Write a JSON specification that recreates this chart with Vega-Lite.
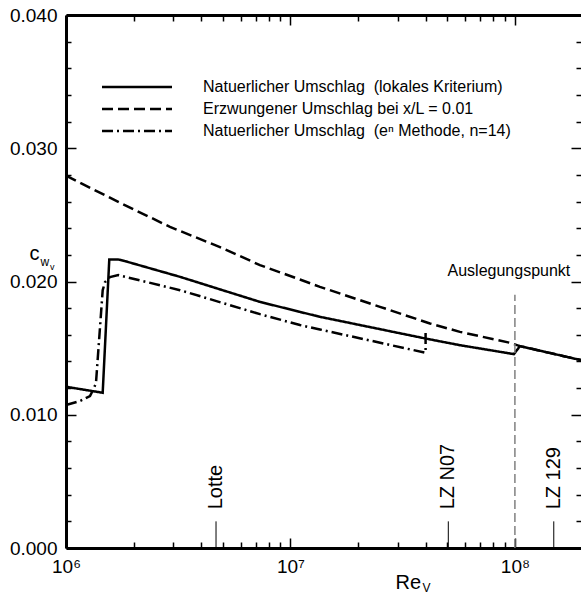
{
  "$schema": "https://vega.github.io/schema/vega-lite/v6.json",
  "width": 515,
  "height": 533,
  "autosize": {"type": "none"},
  "padding": {"left": 66, "top": 15, "right": 0, "bottom": 46},
  "config": {
    "font": "Liberation Sans",
    "view": {"stroke": null},
    "axis": {
      "domainColor": "black", "domainWidth": 3, "tickColor": "black", "tickWidth": 1.5,
      "labelColor": "black", "titleColor": "black", "grid": false,
      "labelFont": "Liberation Sans", "titleFont": "Liberation Sans", "titleFontWeight": "normal",
      "labelFontSize": 19
    }
  },
  "datasets": {
    "curves": [
      {"series": "Natuerlicher Umschlag  (lokales Kriterium)", "i": 1, "Re": 1000000, "cw": 0.01210},
      {"series": "Natuerlicher Umschlag  (lokales Kriterium)", "i": 2, "Re": 1457000, "cw": 0.01165},
      {"series": "Natuerlicher Umschlag  (lokales Kriterium)", "i": 3, "Re": 1559000, "cw": 0.02165},
      {"series": "Natuerlicher Umschlag  (lokales Kriterium)", "i": 4, "Re": 1710000, "cw": 0.02165},
      {"series": "Natuerlicher Umschlag  (lokales Kriterium)", "i": 5, "Re": 1831000, "cw": 0.02153},
      {"series": "Natuerlicher Umschlag  (lokales Kriterium)", "i": 6, "Re": 3220000, "cw": 0.02035},
      {"series": "Natuerlicher Umschlag  (lokales Kriterium)", "i": 7, "Re": 7313000, "cw": 0.01847},
      {"series": "Natuerlicher Umschlag  (lokales Kriterium)", "i": 8, "Re": 11020000, "cw": 0.01772},
      {"series": "Natuerlicher Umschlag  (lokales Kriterium)", "i": 9, "Re": 13530000, "cw": 0.01735},
      {"series": "Natuerlicher Umschlag  (lokales Kriterium)", "i": 10, "Re": 39730000, "cw": 0.01573},
      {"series": "Natuerlicher Umschlag  (lokales Kriterium)", "i": 11, "Re": 56890000, "cw": 0.01522},
      {"series": "Natuerlicher Umschlag  (lokales Kriterium)", "i": 12, "Re": 95000000, "cw": 0.01460},
      {"series": "Natuerlicher Umschlag  (lokales Kriterium)", "i": 13, "Re": 98970000, "cw": 0.01455},
      {"series": "Natuerlicher Umschlag  (lokales Kriterium)", "i": 14, "Re": 105300000, "cw": 0.01515},
      {"series": "Natuerlicher Umschlag  (lokales Kriterium)", "i": 15, "Re": 197000000, "cw": 0.01410},
      {"series": "Erzwungener Umschlag bei x/L = 0.01", "i": 1, "Re": 1000000, "cw": 0.02794},
      {"series": "Erzwungener Umschlag bei x/L = 0.01", "i": 2, "Re": 1740000, "cw": 0.02591},
      {"series": "Erzwungener Umschlag bei x/L = 0.01", "i": 3, "Re": 2906000, "cw": 0.02410},
      {"series": "Erzwungener Umschlag bei x/L = 0.01", "i": 4, "Re": 4853000, "cw": 0.02258},
      {"series": "Erzwungener Umschlag bei x/L = 0.01", "i": 5, "Re": 7313000, "cw": 0.02123},
      {"series": "Erzwungener Umschlag bei x/L = 0.01", "i": 6, "Re": 11020000, "cw": 0.02015},
      {"series": "Erzwungener Umschlag bei x/L = 0.01", "i": 7, "Re": 13530000, "cw": 0.01960},
      {"series": "Erzwungener Umschlag bei x/L = 0.01", "i": 8, "Re": 25040000, "cw": 0.01810},
      {"series": "Erzwungener Umschlag bei x/L = 0.01", "i": 9, "Re": 41820000, "cw": 0.01685},
      {"series": "Erzwungener Umschlag bei x/L = 0.01", "i": 10, "Re": 56890000, "cw": 0.01622},
      {"series": "Erzwungener Umschlag bei x/L = 0.01", "i": 11, "Re": 95000000, "cw": 0.01540},
      {"series": "Erzwungener Umschlag bei x/L = 0.01", "i": 12, "Re": 105300000, "cw": 0.01515},
      {"series": "Erzwungener Umschlag bei x/L = 0.01", "i": 13, "Re": 197000000, "cw": 0.01410},
      {"series": "Natuerlicher Umschlag  (eⁿ Methode, n=14)", "i": 1, "Re": 1000000, "cw": 0.01073},
      {"series": "Natuerlicher Umschlag  (eⁿ Methode, n=14)", "i": 2, "Re": 1154000, "cw": 0.01103},
      {"series": "Natuerlicher Umschlag  (eⁿ Methode, n=14)", "i": 3, "Re": 1279000, "cw": 0.01140},
      {"series": "Natuerlicher Umschlag  (eⁿ Methode, n=14)", "i": 4, "Re": 1332000, "cw": 0.01200},
      {"series": "Natuerlicher Umschlag  (eⁿ Methode, n=14)", "i": 5, "Re": 1360000, "cw": 0.01238},
      {"series": "Natuerlicher Umschlag  (eⁿ Methode, n=14)", "i": 6, "Re": 1457000, "cw": 0.01935},
      {"series": "Natuerlicher Umschlag  (eⁿ Methode, n=14)", "i": 7, "Re": 1492000, "cw": 0.01995},
      {"series": "Natuerlicher Umschlag  (eⁿ Methode, n=14)", "i": 8, "Re": 1570000, "cw": 0.02033},
      {"series": "Natuerlicher Umschlag  (eⁿ Methode, n=14)", "i": 9, "Re": 1710000, "cw": 0.02048},
      {"series": "Natuerlicher Umschlag  (eⁿ Methode, n=14)", "i": 10, "Re": 3220000, "cw": 0.01935},
      {"series": "Natuerlicher Umschlag  (eⁿ Methode, n=14)", "i": 11, "Re": 7313000, "cw": 0.01755},
      {"series": "Natuerlicher Umschlag  (eⁿ Methode, n=14)", "i": 12, "Re": 11020000, "cw": 0.01673},
      {"series": "Natuerlicher Umschlag  (eⁿ Methode, n=14)", "i": 13, "Re": 13530000, "cw": 0.01640},
      {"series": "Natuerlicher Umschlag  (eⁿ Methode, n=14)", "i": 14, "Re": 40000000, "cw": 0.01465},
      {"series": "Natuerlicher Umschlag  (eⁿ Methode, n=14)", "i": 15, "Re": 40000000, "cw": 0.01640}
    ],
    "marks": [
      {"name": "Lotte", "Re": 4660000},
      {"name": "LZ N07", "Re": 50500000},
      {"name": "LZ 129", "Re": 149000000}
    ],
    "design": [
      {"name": "Auslegungspunkt", "Re": 100000000}
    ]
  },
  "layer": [
    {
      "data": {"name": "curves"},
      "mark": {"type": "line", "stroke": "black", "strokeWidth": 2.5},
      "encoding": {
        "x": {
          "field": "Re", "type": "quantitative",
          "scale": {"type": "log", "domain": [1000000, 197000000], "nice": false},
          "axis": {
            "orient": "bottom",
            "values": [1000000, 2000000, 3000000, 4000000, 5000000, 6000000, 7000000, 8000000, 9000000, 10000000, 20000000, 30000000, 40000000, 50000000, 60000000, 70000000, 80000000, 90000000, 100000000],
            "labelExpr": "datum.value == 1000000 ? '10⁶' : datum.value == 10000000 ? '10⁷' : datum.value == 100000000 ? '10⁸' : ''",
            "tickSize": {"condition": {"test": "datum.value == 1000000 || datum.value == 10000000 || datum.value == 100000000", "value": -10}, "value": -6},
            "labelPadding": 19, "labelFlush": false, "labelOverlap": false, "labelBound": false,
            "title": "Re", "titleFontSize": 20, "titleX": 329, "titleY": 40,
            "titleAlign": "left", "titleBaseline": "alphabetic", "titleAngle": 0
          }
        },
        "y": {
          "field": "cw", "type": "quantitative",
          "scale": {"domain": [0, 0.04], "nice": false, "zero": true},
          "axis": {
            "orient": "left",
            "values": [0, 0.002, 0.004, 0.006, 0.008, 0.01, 0.012, 0.014, 0.016, 0.018, 0.02, 0.022, 0.024, 0.026, 0.028, 0.03, 0.032, 0.034, 0.036, 0.038, 0.04],
            "labelExpr": "abs(datum.value*100 - round(datum.value*100)) < 0.001 ? format(datum.value, '.3f') : ''",
            "tickSize": {"condition": {"test": "abs(datum.value*100 - round(datum.value*100)) < 0.001", "value": -10}, "value": -5},
            "labelPadding": 19, "labelFlush": false, "labelOverlap": false, "labelBound": false,
            "title": "c", "titleFontSize": 20, "titleAngle": 0, "titleX": -37, "titleY": 244,
            "titleAlign": "left", "titleBaseline": "alphabetic"
          }
        },
        "strokeDash": {
          "field": "series", "type": "nominal",
          "scale": {
            "domain": ["Natuerlicher Umschlag  (lokales Kriterium)", "Erzwungener Umschlag bei x/L = 0.01", "Natuerlicher Umschlag  (eⁿ Methode, n=14)"],
            "range": [[1, 0], [11, 5], [11, 4, 2, 4]]
          },
          "legend": {
            "title": null, "orient": "none", "legendX": 34.5, "legendY": 61, "direction": "vertical",
            "symbolType": "stroke", "symbolSize": 4900, "symbolStrokeWidth": 2.5, "symbolStrokeColor": "black",
            "clipHeight": 22, "rowPadding": 0, "padding": 0, "symbolOffset": 0,
            "labelExpr": "replace(datum.label, '  ', ' \u00a0')",
            "labelFontSize": 16, "labelOffset": 29.5, "labelFont": "Liberation Sans", "labelColor": "black", "labelLimit": 400
          }
        },
        "order": {"field": "i", "type": "quantitative"}
      }
    },
    {
      "data": {"name": "design"},
      "mark": {"type": "rule", "stroke": "#808080", "strokeWidth": 1.5, "strokeDash": [9, 4]},
      "encoding": {
        "x": {
          "field": "Re", "type": "quantitative",
          "axis": {
            "orient": "top",
            "values": [1000000, 2000000, 3000000, 4000000, 5000000, 6000000, 7000000, 8000000, 9000000, 10000000, 20000000, 30000000, 40000000, 50000000, 60000000, 70000000, 80000000, 90000000, 100000000],
            "labels": false, "title": null,
            "tickSize": {"condition": {"test": "datum.value == 1000000 || datum.value == 10000000 || datum.value == 100000000", "value": -10}, "value": -6}
          }
        },
        "y": {
          "datum": 0, "type": "quantitative",
          "axis": {
            "orient": "right", "domain": false, "labels": false, "title": null,
            "values": [0, 0.002, 0.004, 0.006, 0.008, 0.01, 0.012, 0.014, 0.016, 0.018, 0.02, 0.022, 0.024, 0.026, 0.028, 0.03, 0.032, 0.034, 0.036, 0.038, 0.04],
            "tickSize": {"condition": {"test": "abs(datum.value*100 - round(datum.value*100)) < 0.001", "value": -10}, "value": -5}
          }
        },
        "y2": {"datum": 0.019}
      }
    },
    {
      "data": {"name": "marks"},
      "mark": {"type": "rule", "stroke": "black", "strokeWidth": 1},
      "encoding": {
        "x": {
          "field": "Re", "type": "quantitative",
          "axis": {
            "orient": "bottom", "domain": false, "ticks": false, "labels": false,
            "title": "V", "titleFontSize": 12, "titleX": 356, "titleY": 43,
            "titleAlign": "left", "titleBaseline": "alphabetic", "titleAngle": 0
          }
        },
        "y": {
          "datum": 0, "type": "quantitative",
          "axis": {
            "orient": "left", "domain": false, "ticks": false, "labels": false,
            "title": "w", "titleFontSize": 12, "titleAngle": 0, "titleX": -26, "titleY": 250,
            "titleAlign": "left", "titleBaseline": "alphabetic"
          }
        },
        "y2": {"datum": 0.002}
      }
    },
    {
      "data": {"name": "marks"},
      "mark": {"type": "text", "angle": 270, "align": "left", "baseline": "middle", "fontSize": 20, "font": "Liberation Sans", "color": "black"},
      "encoding": {
        "x": {"field": "Re", "type": "quantitative", "axis": null},
        "y": {
          "datum": 0.0029, "type": "quantitative",
          "axis": {
            "orient": "left", "domain": false, "ticks": false, "labels": false,
            "title": "v", "titleFontSize": 9, "titleAngle": 0, "titleX": -16.5, "titleY": 254,
            "titleAlign": "left", "titleBaseline": "alphabetic"
          }
        },
        "text": {"field": "name"}
      }
    },
    {
      "data": {"name": "design"},
      "mark": {"type": "text", "align": "center", "baseline": "alphabetic", "fontSize": 16, "font": "Liberation Sans", "color": "black", "dx": -6},
      "encoding": {
        "x": {"field": "Re", "type": "quantitative", "axis": null},
        "y": {"datum": 0.0204, "type": "quantitative", "axis": null},
        "text": {"field": "name"}
      }
    }
  ],
  "resolve": {
    "scale": {"x": "shared", "y": "shared"},
    "axis": {"x": "independent", "y": "independent"}
  }
}
